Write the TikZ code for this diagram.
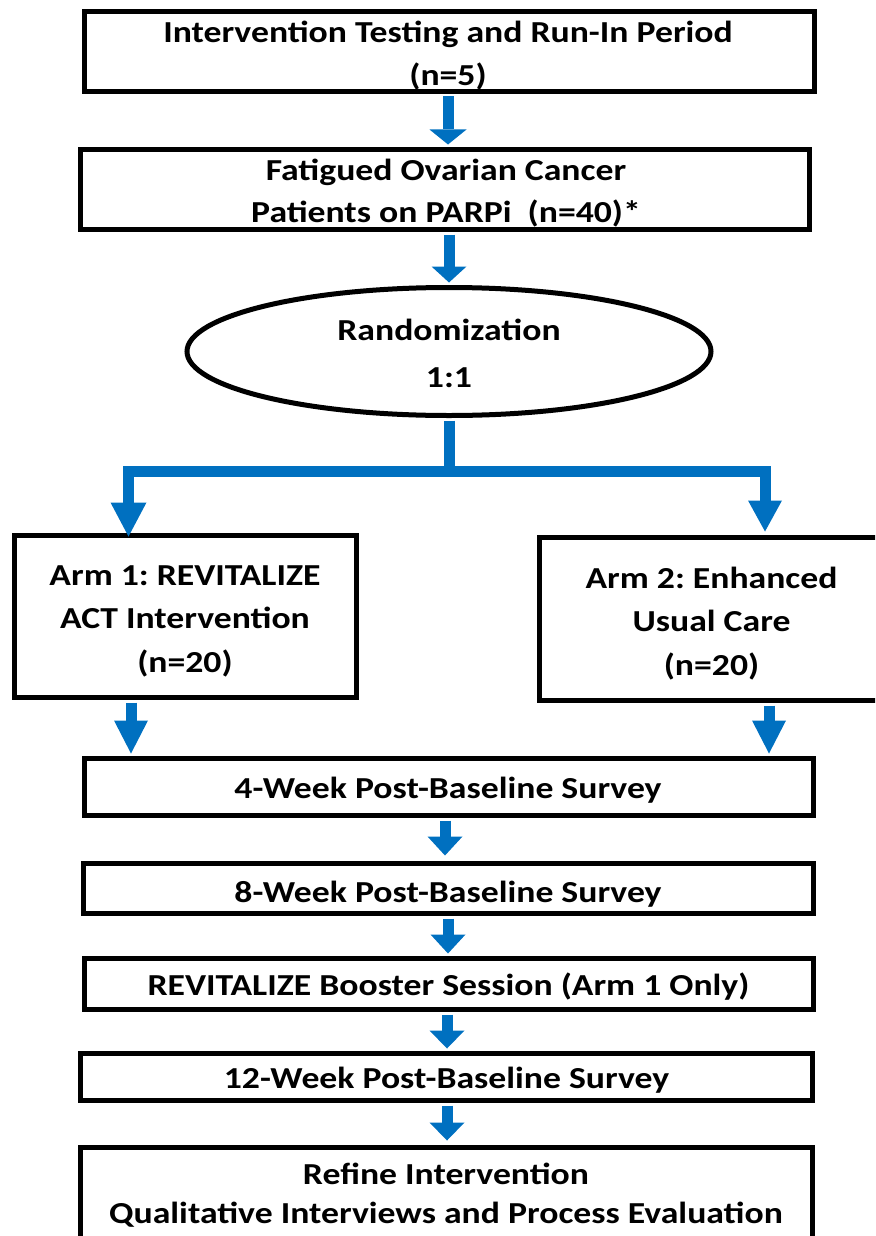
\documentclass[tikz,border=0pt]{standalone}
\usepackage{fontspec}
\setmainfont{Carlito}[FakeStretch=1.17]
\frenchspacing
\usetikzlibrary{arrows.meta,shapes.geometric,calc}
\definecolor{flowblue}{RGB}{0,112,192}
\newcommand{\mylines}[1]{\vtop{\halign{\hfil##\hfil\cr#1\crcr}}}
\tikzset{
  box/.style={draw=black, line width=5pt, rectangle, inner sep=0pt, fill=white},
  txt/.style={anchor=base, inner sep=0pt, font=\bfseries\fontsize{30.5}{#1}\selectfont},
  txt/.default=43,
  flow/.style 2 args={draw=flowblue, line width=11pt, line join=miter,
    -{Triangle[width=#2pt,length=#1pt,line width=0pt,fill=flowblue]}},
}
\begin{document}
\begin{tikzpicture}[x=1pt,y=-1pt]
\useasboundingbox (0,0) rectangle (875,1236);
\clip (0,0) rectangle (875,1236);
% boxes
\node[box, minimum width=730pt, minimum height=80pt] (b1) at (449.5,51.5) {};
\node[box, minimum width=729pt, minimum height=80pt] (b2) at (445,189.5) {};
\node[draw=black, line width=5pt, ellipse, inner sep=0pt, minimum width=524pt, minimum height=128pt] (ell) at (449,351.5) {};
\node[box, minimum width=342pt, minimum height=162pt] (a1) at (185.5,616.5) {};
\node[box, minimum width=342pt, minimum height=163pt] (a2) at (710.5,619) {};
\node[box, minimum width=729pt, minimum height=57pt] (w4) at (449,787) {};
\node[box, minimum width=730pt, minimum height=50pt] (w8) at (448.5,888.5) {};
\node[box, minimum width=729pt, minimum height=51pt] (bo) at (449,984) {};
\node[box, minimum width=732pt, minimum height=47pt] (w12) at (446.5,1077) {};
\node[box, minimum width=732pt, minimum height=132.5pt] (fin) at (446.5,1213.75) {};
% texts
\node[txt=43] (t1) at (448,43) {\mylines{Intervention Testing and Run-In Period\cr (n=5)}};
\node[txt=42] (t2) at (446,180) {\mylines{Fatigued Ovarian Cancer\cr Patients on PARPi\ \ (n=40)*}};
\node[txt=47] (te) at (449,340) {\mylines{Randomization\cr 1:1}};
\node[txt=43.5] (ta1) at (185,585) {\mylines{Arm 1: REVITALIZE\cr ACT Intervention\cr (n=20)}};
\node[txt=43.5] (ta2) at (711.5,588) {\mylines{Arm 2: Enhanced\cr Usual Care\cr (n=20)}};
\node[txt] (tw4) at (448,798) {4-Week Post-Baseline Survey};
\node[txt] (tw8) at (448,902) {8-Week Post-Baseline Survey};
\node[txt] (tbo) at (448.5,995) {REVITALIZE Booster Session (Arm 1 Only)};
\node[txt] (tw12) at (446.5,1088) {12-Week Post-Baseline Survey};
\node[txt=39] (tfin) at (446,1184) {\mylines{Refine Intervention\cr Qualitative Interviews and Process Evaluation}};
% connectors
\draw[flow={15}{37}] ($(b1.south)+(-1.5,2.5)$) -- ($(b2.north)+(3,-2.5)$);
\draw[flow={16}{35}] ($(b2.south)+(4,2.5)$) -- ($(ell.north)+(0,-2.5)$);
\coordinate (split) at (449,471);
\draw[flow={34}{36}] ($(ell.south)+(0,2.5)$) -- (split) -| ($(a1.north)+(-57,3.5)$);
\draw[flow={31}{34}] (split) -| ($(a2.north)+(54.5,-3.5)$);
\draw[flow={33}{34}] ($(a1.south)+(-54.5,2.5)$) -- ($(w4.north)+(-318,-2.5)$);
\draw[flow={33}{34}] ($(a2.south)+(58.5,2.5)$) -- ($(w4.north)+(320,-2.5)$);
\draw[flow={19}{35}] ($(w4.south)+(-4,2.5)$) -- ($(w8.north)+(-3.5,-5.5)$);
\draw[flow={19}{35}] ($(w8.south)+(-0.5,2.5)$) -- ($(bo.north)+(-1,-2.5)$);
\draw[flow={18}{35}] ($(bo.south)+(-2,2.5)$) -- ($(w12.north)+(0.5,-2.5)$);
\draw[flow={18}{35}] ($(w12.south)+(0.5,2.5)$) -- ($(fin.north)+(0.5,-4.5)$);
\end{tikzpicture}
\end{document}
